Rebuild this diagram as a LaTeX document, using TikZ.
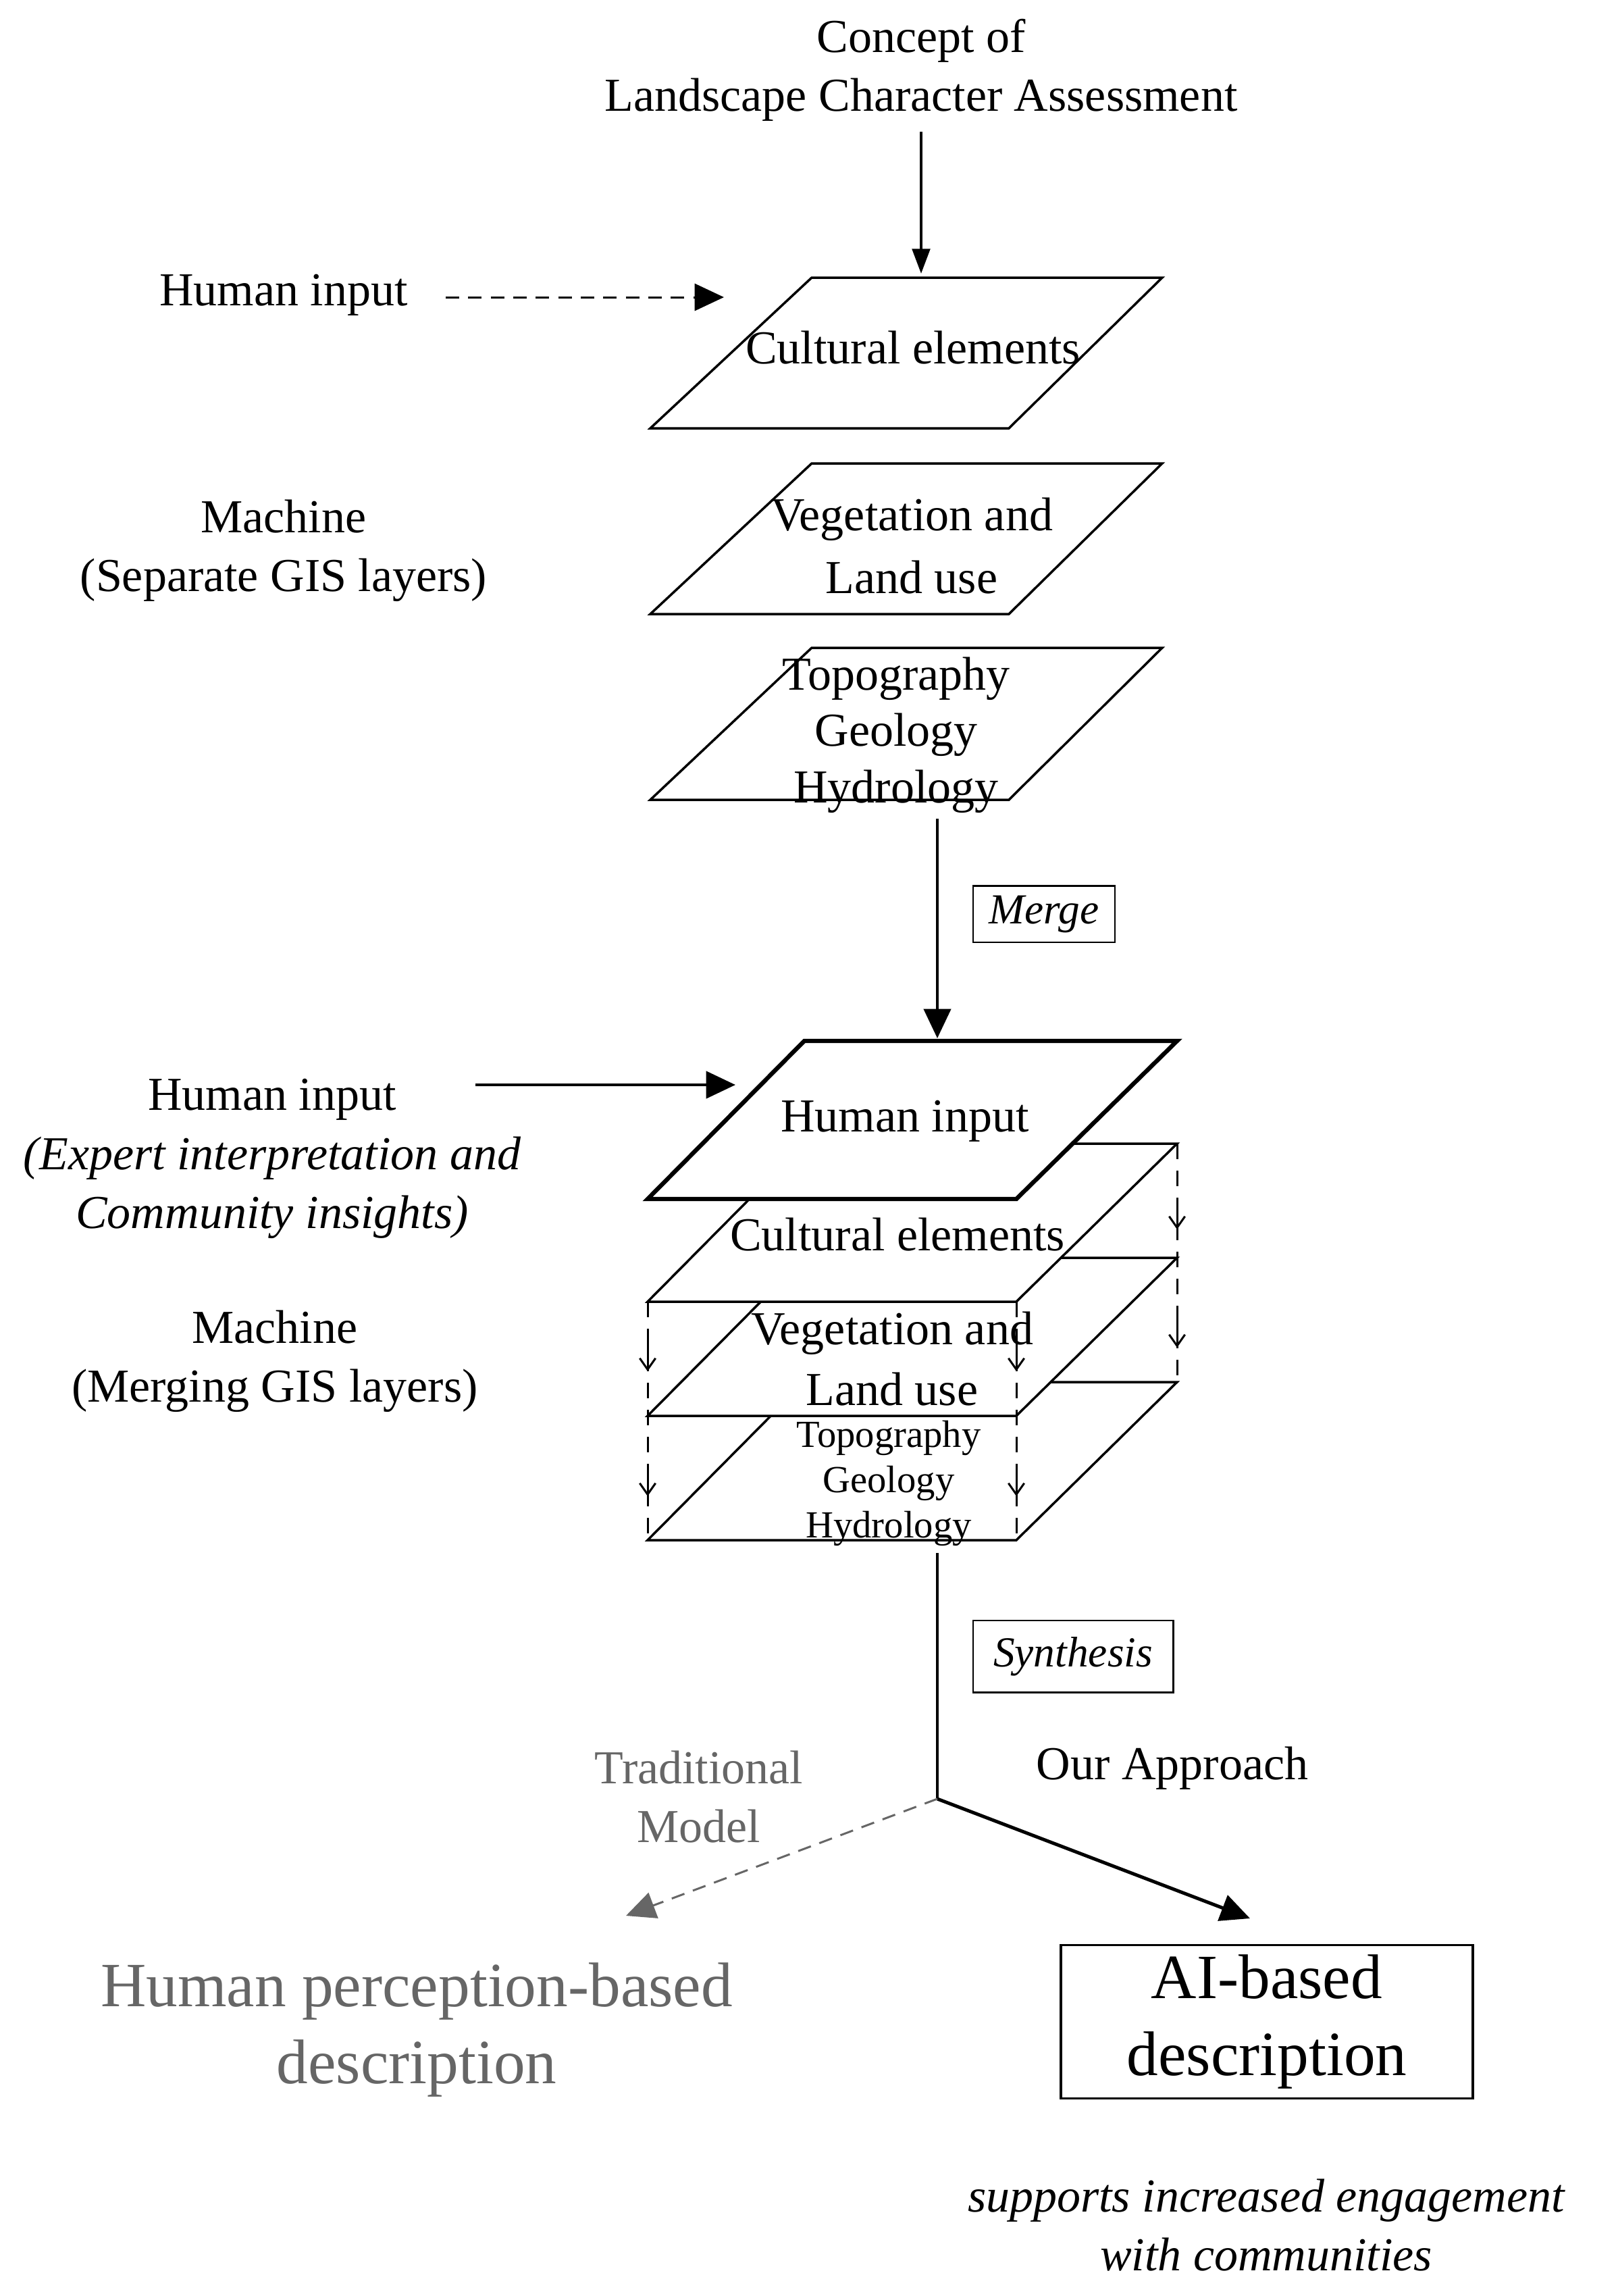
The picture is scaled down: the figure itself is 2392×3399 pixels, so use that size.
\documentclass[tikz,border=0pt]{standalone}
\usepackage{fontspec}
\setmainfont{Liberation Serif}
\usetikzlibrary{arrows.meta}
\begin{document}
\begin{tikzpicture}[x=0.3pt,y=-0.3pt,
  lbl/.style={font=\fontsize{21}{26}\selectfont, align=center, inner sep=0pt},
  small/.style={font=\fontsize{17}{20}\selectfont, align=center, inner sep=0pt},
  layer/.style={line width=1.05pt, line join=miter},
  arr/.style={line width=1.3pt, -{Triangle[length=13pt,width=12pt]}},
  vd/.style={line width=0.9pt, dash pattern=on 7pt off 5pt},
  va/.style={line width=0.9pt, -{Straight Barb[length=5pt,width=7pt]}},
  gr/.style={color=black!60}]
\useasboundingbox (0,0) rectangle (2392,3399);
% top
\node[lbl] (concept) at (1364,104) {Concept of\\Landscape Character Assessment};
\coordinate (c1top) at (1364,405);
\draw[layer] (1202,411) -- (1721,411) -- (1494,634) -- (963,634) -- cycle;
\draw[layer] (1202,686) -- (1721,686) -- (1494,909) -- (963,909) -- cycle;
\draw[layer] (1202,959) -- (1721,959) -- (1494,1184) -- (963,1184) -- cycle;
\node[lbl] (cult1) at (1352,515) {Cultural elements};
\node[lbl, font=\fontsize{21}{28}\selectfont] (veg1) at (1350,808) {Vegetation and\\Land use};
\node[lbl, font=\fontsize{21}{25}\selectfont] (topo1) at (1327,1088) {Topography\\Geology\\Hydrology};
\draw[line width=1pt, -{Triangle[length=11pt,width=8pt]}] (1364,195) -- (c1top);
\node[lbl] (hi1) at (420,437) {Human input};
\coordinate (hi1end) at (1072,440);
\draw[line width=0.9pt, dash pattern=on 6pt off 4pt, -{Triangle[length=13pt,width=12pt]}] (660,440) -- (hi1end);
\node[lbl] (mach1) at (420,815) {Machine\\(Separate GIS layers)};
% merge
\coordinate (m1) at (1388,1212);
\coordinate (m2) at (1388,1537);
\draw[arr] (m1) -- (m2);
\node[draw, line width=0.7pt, font=\fontsize{19}{22}\selectfont\itshape, minimum width=63pt, minimum height=25pt, inner sep=0pt] (merge) at (1546,1353) {Merge};
% stack (bottom to top)
\draw[layer, fill=white] (1191,2046) -- (1743,2046) -- (1505,2280) -- (959,2280) -- cycle;
\draw[layer, fill=white] (1191,1862) -- (1743,1862) -- (1505,2096) -- (959,2096) -- cycle;
\draw[layer, fill=white] (1191,1693) -- (1743,1693) -- (1505,1927) -- (959,1927) -- cycle;
\draw[line width=1.9pt, fill=white] (1191,1541) -- (1743,1541) -- (1505,1775) -- (959,1775) -- cycle;
\node[lbl] (hi2) at (1340,1660) {Human input};
\node[lbl] (cult2) at (1329,1828) {Cultural elements};
\node[lbl, font=\fontsize{21}{27}\selectfont] (veg2) at (1321,2012) {Vegetation and\\Land use};
\node[small] (topo2) at (1316,2196) {Topography\\Geology\\Hydrology};
% dashed verticals
\foreach \x/\a/\b in {959/1927/2280, 1505/1927/2280} {
  \draw[vd] (\x,\a) -- (\x,\b);
  \draw[va] (\x,1985) -- (\x,2030);
  \draw[va] (\x,2170) -- (\x,2215);
}
\draw[vd] (1743,1693) -- (1743,2046);
\draw[va] (1743,1775) -- (1743,1820);
\draw[va] (1743,1950) -- (1743,1995);
% human input 2
\node[lbl] (hi3) at (403,1628) {Human input};
\node[lbl, font=\fontsize{21}{26}\selectfont\itshape] (hi3b) at (403,1758) {(Expert interpretation and\\Community insights)};
\coordinate (hi3end) at (1089,1606);
\draw[arr] (704,1606) -- (hi3end);
\node[lbl] (mach2) at (407,2015) {Machine\\(Merging GIS layers)};
% synthesis
\coordinate (s1) at (1388,2299);
\coordinate (br) at (1388,2663);
\draw[line width=1.3pt] (s1) -- (br);
\node[draw, line width=0.7pt, font=\fontsize{19}{22}\selectfont\itshape, minimum width=89pt, minimum height=32pt, inner sep=0pt] (syn) at (1589,2452) {Synthesis};
\node[lbl, gr] (trad) at (1035,2660) {Traditional\\Model};
\node[lbl] (our) at (1736,2618) {Our Approach};
\coordinate (ai1) at (1851,2840);
\coordinate (hp1) at (927,2836);
\draw[arr, line width=1.5pt] (br) -- (ai1);
\draw[gr, line width=0.9pt, dash pattern=on 6pt off 4pt, -{Triangle[length=13pt,width=12pt]}] (br) -- (hp1);
\node[gr, font=\fontsize{28}{34}\selectfont, align=center, inner sep=0pt] (hp) at (617,3005) {Human perception-based\\description};
\node[draw, line width=1pt, font=\fontsize{28}{34}\selectfont, align=center, minimum width=183pt, minimum height=68pt, inner sep=0pt] (ai) at (1876,2993) {AI-based\\description};
\node[lbl, font=\fontsize{21}{26}\selectfont\itshape] (sup) at (1875,3294) {supports increased engagement\\with communities};
\end{tikzpicture}
\end{document}
